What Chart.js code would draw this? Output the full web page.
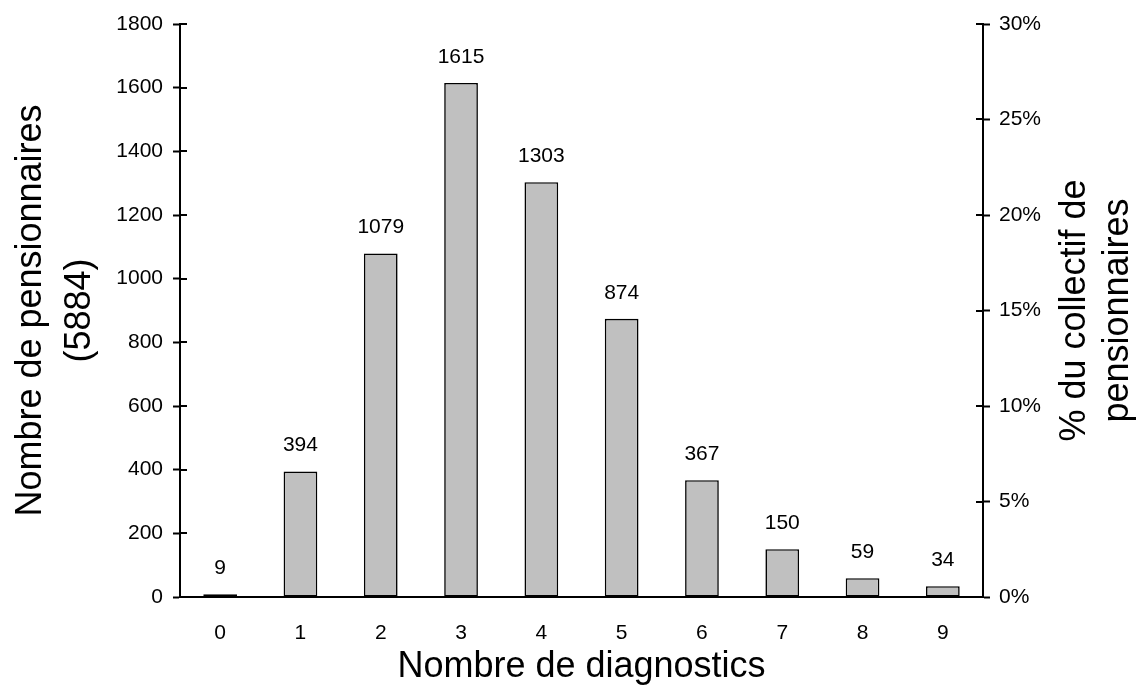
<!DOCTYPE html>
<html>
<head>
<meta charset="utf-8">
<script src="https://cdn.jsdelivr.net/npm/chart.js@4.4.1/dist/chart.umd.min.js"></script>
<style>
  body{margin:0;background:#fff;}
  #wrap{width:1141px;height:689px;position:relative;}
</style>
</head>
<body>
<div id="wrap"><canvas id="chart"></canvas></div>
<script>
// donnees
const categories = ["0","1","2","3","4","5","6","7","8","9"];
const pensionnaires = [9,394,1079,1615,1303,874,367,150,59,34];
const leftTicks = [0,200,400,600,800,1000,1200,1400,1600,1800];
const rightTicks = [0,5,10,15,20,25,30];

const FONT = "'Liberation Sans', Arial, sans-serif";

// valeurs au-dessus des barres + petits traits vers l'interieur + titre de droite
const extras = {
  id:"extras",
  afterDatasetsDraw(chart){
    const ctx = chart.ctx;
    const meta = chart.getDatasetMeta(0);
    ctx.save();
    ctx.fillStyle = "#000";
    ctx.font = "21px " + FONT;
    ctx.textAlign = "center";
    ctx.textBaseline = "middle";
    meta.data.forEach((bar,i)=>{
      ctx.fillText(pensionnaires[i], bar.x, bar.y - 26);
    });
    ctx.restore();
  },
  afterDraw(chart){
    const ctx = chart.ctx;
    const area = chart.chartArea;
    const y = chart.scales.y, y1 = chart.scales.y1;
    ctx.save();
    ctx.strokeStyle = "#000";
    ctx.lineWidth = 2;
    ctx.beginPath();
    y.ticks.forEach(t=>{
      const py = Math.round(y.getPixelForValue(t.value));
      ctx.moveTo(area.left, py); ctx.lineTo(area.left + 7, py);
    });
    y1.ticks.forEach(t=>{
      const py = Math.round(y1.getPixelForValue(t.value));
      ctx.moveTo(area.right, py); ctx.lineTo(area.right - 7, py);
    });
    ctx.stroke();

    // titre axe droit, lu de bas en haut comme a gauche
    ctx.fillStyle = "#000";
    ctx.font = "36px " + FONT;
    ctx.textAlign = "center";
    ctx.textBaseline = "middle";
    ctx.translate(1075, (area.top + area.bottom)/2);
    ctx.rotate(-Math.PI/2);
    ctx.fillText("% du collectif de", 0, 0);
    ctx.fillText("pensionnaires", 0, 43);
    ctx.restore();
  }
};

new Chart(document.getElementById("chart"),{
  type:"bar",
  data:{
    labels:categories,
    datasets:[{
      data:pensionnaires,
      backgroundColor:"#c0c0c0",
      borderColor:"#000",
      borderWidth:1.6,
      borderSkipped:false,
      categoryPercentage:1,
      barPercentage:0.42,
      yAxisID:"y"
    }]
  },
  options:{
    responsive:true,
    maintainAspectRatio:false,
    animation:false,
    layout:{padding:{top:24,left:0,right:0,bottom:0}},
    plugins:{legend:{display:false},tooltip:{enabled:false}},
    scales:{
      x:{
        grid:{display:false,drawTicks:false},
        border:{display:true,color:"#000",width:2},
        ticks:{color:"#000",font:{family:FONT,size:21},padding:24},
        title:{display:true,text:"Nombre de diagnostics",color:"#000",
               font:{family:FONT,size:36},padding:{top:0,bottom:0}},
        afterFit(s){ s.height = 92; }
      },
      y:{
        position:"left",
        min:0,max:1800,
        afterBuildTicks(s){ s.ticks = leftTicks.map(v=>({value:v})); },
        grid:{drawOnChartArea:false,tickLength:7,tickColor:"#000",tickWidth:2},
        border:{color:"#000",width:2},
        ticks:{color:"#000",font:{family:FONT,size:21},padding:10,callback:v=>String(v)},
        title:{display:true,text:["Nombre de pensionnaires","(5884)"],color:"#000",
               font:{family:FONT,size:36,lineHeight:1.35},padding:{top:7,bottom:0}},
        afterFit(s){ s.width = 180; }
      },
      y1:{
        position:"right",
        min:0,max:30,
        afterBuildTicks(s){ s.ticks = rightTicks.map(v=>({value:v})); },
        grid:{drawOnChartArea:false,tickLength:7,tickColor:"#000",tickWidth:2},
        border:{color:"#000",width:2},
        ticks:{color:"#000",font:{family:FONT,size:21},padding:9,callback:v=>v+"%"},
        afterFit(s){ s.width = 158; }
      }
    }
  },
  plugins:[extras]
});
</script>
</body>
</html>
